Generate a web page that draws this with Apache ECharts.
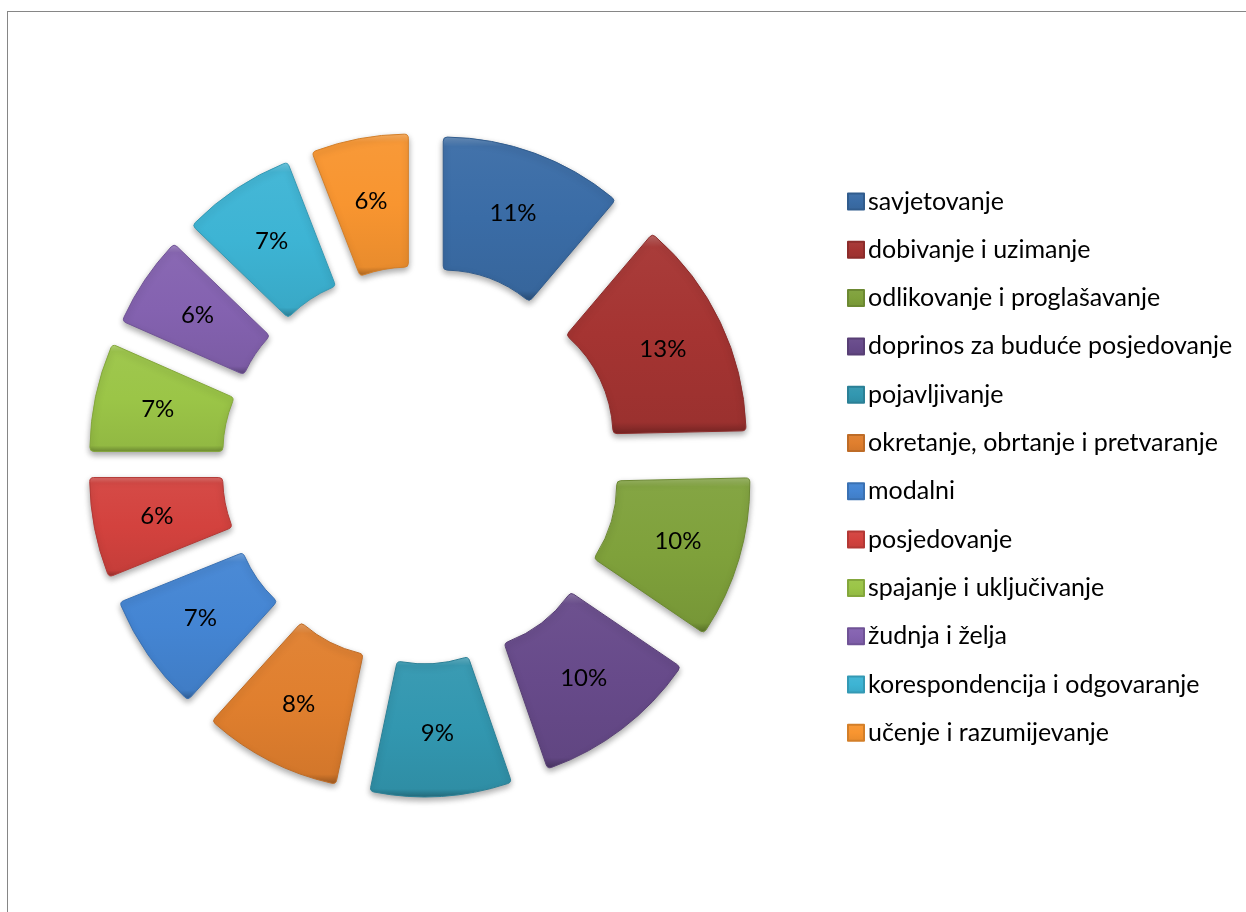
<!DOCTYPE html>
<html>
<head>
<meta charset="utf-8">
<title>Doughnut</title>
<script src="https://cdn.jsdelivr.net/npm/echarts@6/dist/echarts.min.js"></script>
<style>
  html, body { margin: 0; padding: 0; background: #ffffff; }
  #frame {
    position: absolute; left: 7px; top: 11px; width: 2000px; height: 2000px;
    border-left: 1px solid #868686; border-top: 1px solid #868686;
  }
  #chart { position: absolute; left: 0; top: 0; width: 1246px; height: 912px; }
</style>
</head>
<body>
<div id="frame"></div>
<div id="chart"></div>
<script>
// Verb categories and their shares (percent; labels show them rounded)
const categories = [
  'savjetovanje',
  'dobivanje i uzimanje',
  'odlikovanje i proglašavanje',
  'doprinos za buduće posjedovanje',
  'pojavljivanje',
  'okretanje, obrtanje i pretvaranje',
  'modalni',
  'posjedovanje',
  'spajanje i uključivanje',
  'žudnja i želja',
  'korespondencija i odgovaranje',
  'učenje i razumijevanje'
];
const values = [11.2, 13.45, 9.85, 10.2, 8.6, 8.4, 7.2, 6.1, 6.6, 5.6, 6.9, 5.9];
const colors = [
  '#3a6ca6', '#a53432', '#7fa13b', '#674a8a', '#3297b0', '#e07f2e',
  '#4485d3', '#d3423e', '#9bc547', '#8462b0', '#3db4d4', '#f89530'
];

// blend a hex colour toward white (t>0) or black (t<0)
function shade(hex, t) {
  const n = parseInt(hex.slice(1), 16);
  let r = (n >> 16) & 255, g = (n >> 8) & 255, b = n & 255;
  const target = t > 0 ? 255 : 0, k = Math.abs(t);
  r = Math.round(r + (target - r) * k);
  g = Math.round(g + (target - g) * k);
  b = Math.round(b + (target - b) * k);
  return 'rgb(' + r + ',' + g + ',' + b + ')';
}

// bevel-like fill: light rim on top, dark rim at the bottom
function bevel(hex) {
  return new echarts.graphic.LinearGradient(0, 0, 0, 1, [
    { offset: 0, color: shade(hex, 0.25) },
    { offset: 0.06, color: shade(hex, 0.04) },
    { offset: 0.5, color: hex },
    { offset: 0.94, color: shade(hex, -0.06) },
    { offset: 1, color: shade(hex, -0.3) }
  ]);
}

const seriesData = categories.map((name, i) => ({
  name: name,
  value: values[i],
  selected: true,
  itemStyle: { color: bevel(colors[i]), borderColor: shade(colors[i], -0.15) }
}));

const fontStack = 'Lato, "Noto Sans", sans-serif';

const chart = echarts.init(document.getElementById('chart'), null, { renderer: 'canvas' });
chart.setOption({
  backgroundColor: 'transparent',
  animation: false,
  legend: {
    orient: 'vertical',
    left: 842,
    top: 184,
    itemWidth: 16,
    itemHeight: 16,
    itemGap: 23.3,
    icon: 'rect',
    selectedMode: false,
    textStyle: {
      fontFamily: fontStack,
      fontSize: 25,
      lineHeight: 25,
      color: '#000000',
      padding: [0, 0, 0, -1]
    },
    data: categories
  },
  series: [{
    type: 'pie',
    center: [420.5, 465],
    radius: [133, 266],
    startAngle: 90,
    clockwise: true,
    percentPrecision: 0,
    selectedMode: 'multiple',
    selectedOffset: 66,
    emphasis: { disabled: true },
    itemStyle: {
      borderWidth: 1,
      borderRadius: 4,
      shadowBlur: 6,
      shadowOffsetY: 3,
      shadowColor: 'rgba(0,0,0,0.35)'
    },
    label: {
      show: true,
      position: 'inside',
      formatter: '{d}%',
      color: '#000000',
      fontFamily: fontStack,
      fontSize: 24
    },
    labelLine: { show: false },
    data: seriesData
  }]
});
</script>
</body>
</html>
